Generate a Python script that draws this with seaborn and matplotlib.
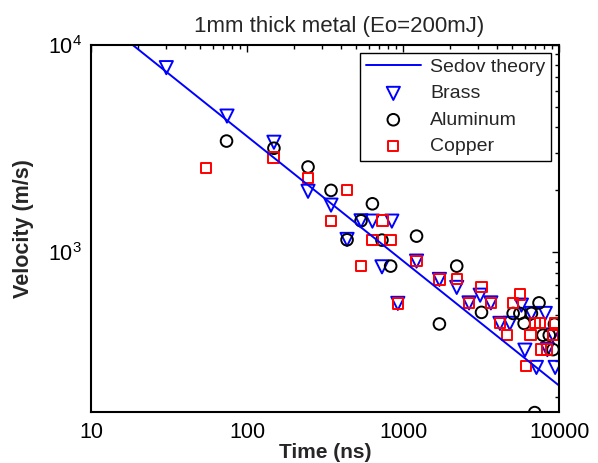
import numpy as np
import pandas as pd
import matplotlib
matplotlib.use("Agg")
import matplotlib.pyplot as plt
import seaborn as sns
from matplotlib.markers import MarkerStyle
from matplotlib.ticker import FixedLocator, FixedFormatter, LogLocator, NullFormatter

# Sedov theory line (end points)
sedov_t = [10, 10000]
sedov_v = [14400, 228]

brass_t = [30.2, 74, 148, 245, 344, 436, 536, 634, 845, 730, 923, 1217, 1706,
           2203, 2643, 3115, 3648, 4170, 4830, 5730, 6640, 8150, 9130, 6030,
           8400, 7150, 9430]
brass_v = [7770, 4540, 3395, 1970, 1690, 1155, 1420, 1415, 1415, 852, 568, 908,
           741, 678, 571, 622, 571, 455, 455, 557, 508, 508, 400, 338, 340, 279,
           279]

alu_t = [73.5, 148, 245, 344, 436, 634, 536, 730, 1217, 830, 1706, 2203, 3177,
         5070, 5600, 6640, 7430, 5960, 7880, 8640, 9330, 9130, 6970]
alu_v = [3440, 3177, 2580, 1990, 1150, 1715, 1420, 1146, 1198, 859, 452, 859,
         514, 508, 508, 508, 571, 455, 399, 399, 451, 340, 169]

copper_t = [54.3, 147, 245, 436, 344, 735, 634, 830, 536, 1217, 923, 1706, 2203,
            2643, 3177, 3648, 4170, 4640, 5070, 5600, 6540, 6970, 7530, 9130,
            9380, 7660, 8400, 6100]
copper_v = [2550, 2870, 2280, 1995, 1420, 1427, 1146, 1146, 859, 908, 568, 741,
            743, 571, 683, 571, 457, 399, 571, 627, 399, 457, 457, 399, 457, 340,
            340, 283]

x_ticks = [10, 100, 1000, 10000]
x_ticklabels = ["10", "100", "1000", "10000"]

sns.set_style("white")
plt.rcParams["font.family"] = ["Liberation Sans", "DejaVu Sans"]

fig, ax = plt.subplots(figsize=(5.98, 4.63), dpi=100)
fig.subplots_adjust(left=0.153, right=0.935, top=0.903, bottom=0.110)

sns.lineplot(x=sedov_t, y=sedov_v, color="#0000ff", linewidth=1.4, ax=ax,
             label="Sedov theory")
sns.scatterplot(x=brass_t, y=brass_v, marker=MarkerStyle("v", fillstyle="none"),
                color="#0000ff", s=90, linewidth=1.4, ax=ax, label="Brass")
sns.scatterplot(x=alu_t, y=alu_v, marker=MarkerStyle("o", fillstyle="none"),
                color="black", s=70, linewidth=1.4, ax=ax, label="Aluminum")
sns.scatterplot(x=copper_t, y=copper_v, marker=MarkerStyle("s", fillstyle="none"),
                color="#ff0000", s=55, linewidth=1.4, ax=ax, label="Copper")

ax.set_xscale("log")
ax.set_yscale("log")
ax.set_xlim(10, 10000)
ax.set_ylim(170, 10000)

ax.xaxis.set_major_locator(FixedLocator(x_ticks))
ax.xaxis.set_major_formatter(FixedFormatter(x_ticklabels))
ax.xaxis.set_minor_locator(LogLocator(base=10, subs=np.arange(2, 10)))
ax.xaxis.set_minor_formatter(NullFormatter())
ax.yaxis.set_minor_locator(LogLocator(base=10, subs=np.arange(2, 10)))
ax.yaxis.set_minor_formatter(NullFormatter())

ax.tick_params(which="both", direction="in", top=True, right=True,
               labelsize=15.5, width=1.0, colors="black")
ax.tick_params(which="major", length=5, pad=7)
ax.tick_params(which="minor", length=3)

for sp in ax.spines.values():
    sp.set_visible(True)
    sp.set_color("black")
    sp.set_linewidth(1.5)

ax.set_title("1mm thick metal (Eo=200mJ)", fontsize=16, pad=9, x=0.53)
ax.set_xlabel("Time (ns)", fontsize=15, fontweight="bold", labelpad=0)
ax.set_ylabel("Velocity (m/s)", fontsize=15.5, fontweight="bold", labelpad=10)

leg = ax.legend(loc="upper right", fontsize=14, frameon=True, fancybox=False,
                edgecolor="black", framealpha=1, borderpad=0.3,
                handlelength=2.8, labelspacing=0.45, handletextpad=0.5,
                borderaxespad=0.4)
leg.get_frame().set_linewidth(1.0)

fig.savefig("out.png", dpi=100)
